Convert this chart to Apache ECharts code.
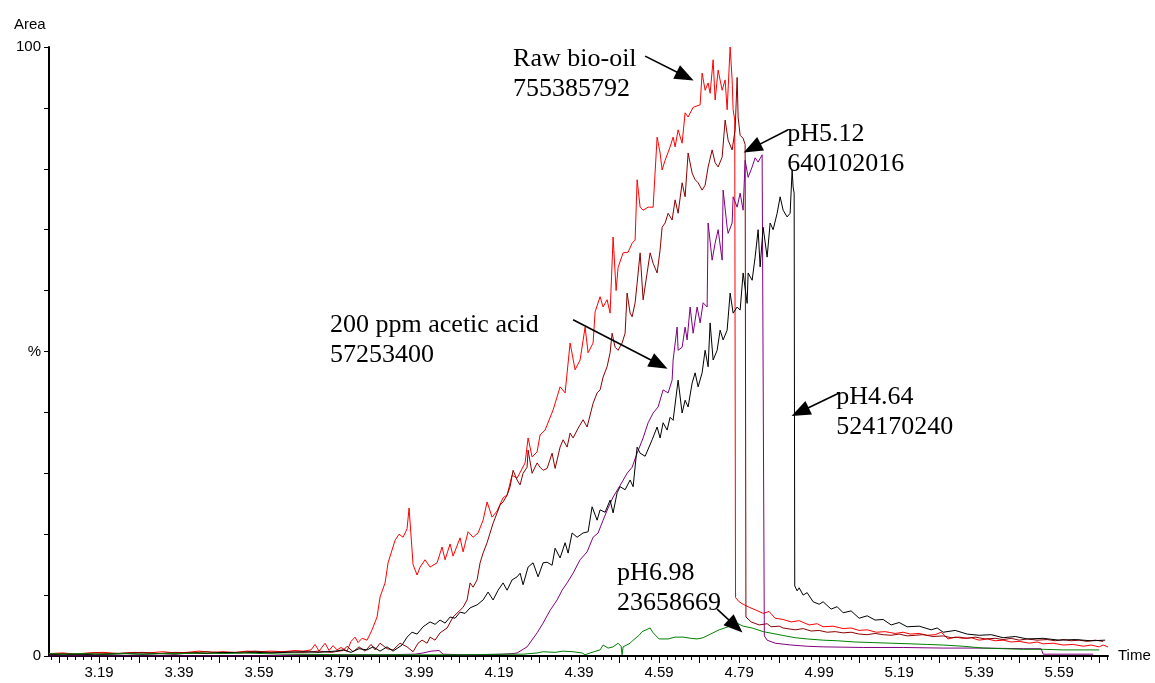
<!DOCTYPE html>
<html>
<head>
<meta charset="utf-8">
<script src="https://cdn.jsdelivr.net/npm/echarts@6/dist/echarts.min.js"></script>
<style>
  html, body { margin: 0; padding: 0; background: #fff; }
  #chart { width: 1155px; height: 683px; }
</style>
</head>
<body>
<div id="chart"></div>
<script>
// [time (min), % of base peak]
var rawBioOil = [[3.065,0.4],[3.10,0.5],[3.13,0.3],[3.16,0.5],[3.20,0.6],[3.24,0.4],[3.28,0.6],[3.31,0.5],[3.35,0.7],[3.38,0.5],[3.41,0.6],[3.44,0.8],[3.47,0.6],[3.50,0.7],[3.53,0.6],[3.56,0.8],[3.59,0.7],[3.62,0.8],[3.65,0.7],[3.68,0.9],[3.70,0.8],[3.72,1.0],[3.73,1.9],[3.74,0.8],[3.755,2.1],[3.765,0.9],[3.775,1.7],[3.785,1.0],[3.795,1.4],[3.81,0.8],[3.82,2.4],[3.83,3.1],[3.8375,2.2],[3.8475,2.9],[3.86,2.6],[3.8725,4.3],[3.885,6.4],[3.8925,9.7],[3.905,12.0],[3.9125,15.3],[3.93,19.0],[3.94,20.0],[3.95,19.5],[3.96,20.9],[3.965,24.3],[3.975,15.0],[3.985,13.3],[3.9925,14.6],[4.005,15.8],[4.0175,14.6],[4.035,15.3],[4.0475,17.9],[4.055,15.8],[4.0675,18.4],[4.075,16.4],[4.0925,19.4],[4.10,17.1],[4.1125,20.4],[4.125,19.5],[4.1375,20.2],[4.15,22.3],[4.16,25.3],[4.1725,22.8],[4.185,23.8],[4.20,26.0],[4.21,26.4],[4.2225,29.7],[4.235,29.2],[4.255,31.7],[4.2625,35.8],[4.2725,32.7],[4.285,33.5],[4.2925,36.3],[4.305,37.1],[4.325,40.4],[4.3425,44.2],[4.355,43.2],[4.3675,51.4],[4.38,47.0],[4.3925,48.6],[4.405,54.0],[4.4125,49.8],[4.425,51.4],[4.43,56.5],[4.4425,59.0],[4.45,57.3],[4.46,58.5],[4.4675,56.3],[4.475,68.8],[4.4825,60.0],[4.4875,63.8],[4.50,66.2],[4.5125,66.3],[4.5225,67.8],[4.53,68.3],[4.535,78.2],[4.5425,73.7],[4.55,73.2],[4.5625,73.7],[4.575,73.7],[4.585,85.2],[4.5925,82.6],[4.5975,79.8],[4.605,81.4],[4.6175,83.6],[4.625,85.2],[4.63,83.6],[4.6375,86.4],[4.6475,84.2],[4.655,89.2],[4.6625,88.5],[4.675,90.1],[4.6925,90.5],[4.6975,95.7],[4.705,92.9],[4.7125,94.1],[4.7175,92.4],[4.725,97.9],[4.73,91.3],[4.7375,96.2],[4.7475,92.9],[4.755,94.6],[4.76,89.7],[4.7675,100],[4.7725,94.6],[4.775,89.7],[4.779,88.0],[4.781,9.6],[4.79,8.9],[4.80,8.5],[4.815,8.0],[4.83,7.6],[4.85,7.0],[4.865,7.3],[4.88,6.2],[4.90,6.0],[4.92,5.6],[4.94,5.8],[4.965,5.1],[4.985,5.3],[5.00,4.8],[5.025,4.9],[5.05,4.5],[5.07,4.6],[5.09,4.2],[5.11,4.3],[5.133,3.9],[5.155,4.0],[5.18,3.7],[5.20,3.9],[5.218,3.6],[5.24,3.7],[5.26,3.4],[5.28,3.5],[5.295,3.9],[5.305,3.3],[5.312,2.8],[5.33,3.1],[5.35,2.9],[5.37,3.0],[5.39,2.6],[5.41,2.8],[5.43,2.5],[5.45,2.6],[5.47,2.3],[5.49,2.4],[5.515,2.1],[5.535,2.3],[5.55,2.0],[5.575,2.1],[5.60,1.8],[5.625,1.9],[5.65,1.6],[5.67,1.8],[5.69,1.5],[5.70,1.8],[5.712,1.5]];

var pH512 = [[3.065,0.3],[3.10,0.4],[3.14,0.3],[3.18,0.5],[3.22,0.4],[3.26,0.5],[3.30,0.6],[3.34,0.4],[3.38,0.6],[3.42,0.5],[3.46,0.7],[3.50,0.5],[3.54,0.6],[3.58,0.8],[3.62,0.6],[3.66,0.7],[3.70,0.6],[3.74,0.8],[3.77,0.6],[3.80,0.9],[3.81,1.6],[3.825,0.7],[3.84,1.5],[3.855,0.8],[3.87,1.9],[3.88,1.0],[3.8925,2.1],[3.91,1.2],[3.925,1.0],[3.9425,2.1],[3.96,1.5],[3.975,0.7],[3.9875,2.1],[3.9975,2.6],[4.01,2.1],[4.0175,3.1],[4.03,2.6],[4.0425,3.8],[4.06,4.6],[4.075,6.4],[4.0875,7.2],[4.10,8.0],[4.11,9.2],[4.1175,12.0],[4.125,11.3],[4.135,12.5],[4.1425,15.3],[4.15,16.9],[4.16,18.6],[4.1675,20.2],[4.175,21.8],[4.185,23.5],[4.1925,24.8],[4.20,25.3],[4.21,26.4],[4.2175,27.8],[4.225,30.5],[4.235,28.9],[4.2425,28.1],[4.25,30.0],[4.26,31.0],[4.2625,33.8],[4.2725,30.0],[4.285,31.7],[4.2925,31.0],[4.30,30.5],[4.31,30.8],[4.3225,33.3],[4.33,30.8],[4.3425,34.3],[4.35,35.5],[4.36,34.3],[4.3675,36.6],[4.375,35.8],[4.3875,37.4],[4.40,38.8],[4.41,37.6],[4.425,41.5],[4.435,43.2],[4.4425,43.7],[4.45,45.8],[4.46,47.5],[4.4675,49.8],[4.4725,53.0],[4.48,50.7],[4.4875,50.2],[4.4975,51.4],[4.505,53.0],[4.51,59.6],[4.5175,56.3],[4.5225,55.7],[4.53,58.0],[4.535,61.2],[4.5425,66.2],[4.55,58.5],[4.56,62.9],[4.5675,66.2],[4.575,64.5],[4.585,62.9],[4.5925,66.7],[4.5975,70.4],[4.605,71.1],[4.6125,72.7],[4.6225,71.6],[4.63,74.9],[4.6375,72.7],[4.6475,77.7],[4.655,75.4],[4.6625,82.6],[4.6725,79.3],[4.68,78.2],[4.6875,77.7],[4.6975,76.5],[4.705,77.3],[4.7125,80.3],[4.7225,83.1],[4.73,81.0],[4.7375,80.3],[4.7475,81.9],[4.755,88.0],[4.7625,84.7],[4.7725,83.1],[4.78,86.4],[4.785,95.0],[4.7875,88.5],[4.7925,85.5],[4.80,85.0],[4.805,84.0],[4.807,6.4],[4.82,5.6],[4.84,5.1],[4.86,5.3],[4.87,4.8],[4.89,4.9],[4.90,4.6],[4.93,4.3],[4.95,4.5],[4.97,4.1],[4.99,4.2],[5.01,3.9],[5.03,4.0],[5.05,3.8],[5.07,3.9],[5.09,3.6],[5.11,3.5],[5.13,3.7],[5.15,3.5],[5.17,3.4],[5.19,3.6],[5.21,3.3],[5.23,3.4],[5.25,3.5],[5.275,3.2],[5.30,3.3],[5.32,3.0],[5.34,3.1],[5.36,2.9],[5.38,3.1],[5.405,2.8],[5.43,2.9],[5.45,2.7],[5.47,2.9],[5.49,2.6],[5.51,2.8],[5.535,2.6],[5.56,2.7],[5.58,2.5],[5.60,2.7],[5.62,2.5],[5.64,2.6],[5.66,2.4],[5.68,2.6],[5.70,2.4]];

var aceticAcid = [[3.065,0.0],[3.30,0.0],[3.60,0.0],[3.65,0.1],[3.70,0.2],[3.80,0.2],[3.90,0.2],[3.98,0.3],[4.00,0.5],[4.02,0.8],[4.04,0.9],[4.05,0.3],[4.10,0.2],[4.15,0.2],[4.20,0.3],[4.225,0.4],[4.235,0.5],[4.26,1.5],[4.285,3.8],[4.30,5.4],[4.3175,7.5],[4.335,9.2],[4.3475,10.8],[4.36,12.0],[4.375,13.6],[4.3925,15.8],[4.41,17.1],[4.425,19.5],[4.4375,20.2],[4.45,22.3],[4.4625,24.3],[4.475,26.1],[4.4925,28.0],[4.51,30.0],[4.5225,31.0],[4.535,33.3],[4.55,35.8],[4.5625,38.3],[4.575,39.9],[4.5875,40.9],[4.60,43.7],[4.6125,43.2],[4.6225,45.3],[4.625,48.6],[4.635,54.0],[4.6375,50.2],[4.6475,50.7],[4.655,54.0],[4.66,51.9],[4.6675,57.3],[4.675,53.0],[4.685,57.3],[4.6925,54.7],[4.70,58.0],[4.71,57.3],[4.7125,71.1],[4.7225,65.0],[4.73,67.8],[4.7375,70.0],[4.7475,65.0],[4.75,76.5],[4.76,70.4],[4.7625,69.4],[4.7725,71.1],[4.775,75.4],[4.785,73.7],[4.7925,76.0],[4.80,73.2],[4.805,81.4],[4.8125,78.6],[4.8225,80.3],[4.83,81.8],[4.8375,81.1],[4.8475,82.3],[4.85,82.5],[4.853,3.3],[4.86,2.6],[4.88,2.1],[4.92,1.8],[4.96,1.6],[5.00,1.5],[5.10,1.4],[5.20,1.4],[5.30,1.3],[5.40,1.3],[5.50,1.2],[5.545,1.2],[5.55,0.3],[5.675,0.3]];

var pH464 = [[3.065,0.3],[3.10,0.2],[3.14,0.3],[3.18,0.2],[3.22,0.3],[3.26,0.4],[3.30,0.3],[3.34,0.4],[3.38,0.3],[3.42,0.5],[3.46,0.4],[3.50,0.6],[3.54,0.5],[3.58,0.6],[3.62,0.5],[3.66,0.6],[3.70,0.7],[3.74,0.6],[3.78,0.8],[3.80,1.0],[3.82,0.6],[3.84,1.2],[3.86,1.0],[3.875,1.5],[3.8925,0.8],[3.91,1.5],[3.925,0.8],[3.9475,1.8],[3.96,3.1],[3.9725,3.9],[3.985,3.6],[4.00,4.8],[4.0175,5.6],[4.03,5.2],[4.0425,5.9],[4.055,5.4],[4.0675,6.4],[4.08,6.2],[4.0925,7.2],[4.105,7.0],[4.1175,7.9],[4.135,8.4],[4.15,9.2],[4.1625,10.5],[4.175,9.2],[4.1875,10.8],[4.20,12.0],[4.21,10.8],[4.2225,12.5],[4.235,13.0],[4.2425,13.6],[4.25,11.7],[4.2625,14.6],[4.275,15.3],[4.2875,13.0],[4.30,15.3],[4.31,15.4],[4.3225,14.9],[4.33,17.7],[4.3425,16.1],[4.355,18.6],[4.3625,16.9],[4.3725,20.2],[4.385,19.5],[4.40,20.2],[4.4125,20.4],[4.4225,24.5],[4.435,22.3],[4.4425,24.0],[4.455,23.6],[4.4675,25.6],[4.475,23.5],[4.485,26.8],[4.4925,27.8],[4.505,27.3],[4.5175,28.9],[4.525,27.8],[4.535,34.3],[4.5425,33.3],[4.555,32.8],[4.5725,35.5],[4.585,37.6],[4.5925,35.8],[4.60,38.3],[4.61,37.1],[4.6175,39.2],[4.625,38.7],[4.6375,45.3],[4.6475,39.9],[4.655,42.0],[4.6625,40.9],[4.6725,44.8],[4.68,46.5],[4.6875,44.2],[4.6975,46.5],[4.705,50.2],[4.7125,47.5],[4.7175,54.7],[4.725,48.6],[4.735,50.2],[4.7425,53.5],[4.75,51.9],[4.76,53.5],[4.7675,59.6],[4.775,56.3],[4.785,57.3],[4.7925,56.8],[4.80,62.9],[4.81,57.9],[4.8125,62.9],[4.8225,61.7],[4.83,65.5],[4.8375,70.0],[4.8425,63.9],[4.85,70.4],[4.86,65.5],[4.8675,71.1],[4.875,70.0],[4.885,72.7],[4.8925,75.4],[4.90,73.2],[4.91,72.1],[4.9175,72.7],[4.9225,79.8],[4.925,77.0],[4.9275,76.0],[4.929,11.5],[4.935,10.7],[4.94,11.2],[4.95,10.0],[4.96,10.4],[4.975,8.9],[4.99,8.5],[5.00,8.9],[5.02,7.7],[5.035,8.1],[5.05,7.1],[5.07,7.4],[5.09,6.2],[5.11,6.6],[5.13,5.9],[5.15,6.0],[5.17,5.1],[5.19,5.5],[5.21,4.8],[5.24,4.9],[5.27,4.3],[5.285,4.6],[5.30,3.9],[5.33,4.2],[5.36,3.6],[5.39,3.4],[5.42,3.5],[5.45,3.0],[5.48,3.2],[5.51,2.8],[5.55,2.9],[5.59,2.6],[5.63,2.7],[5.67,2.5],[5.705,2.6]];

var pH698 = [[3.065,0.4],[3.10,0.3],[3.15,0.4],[3.20,0.3],[3.25,0.4],[3.30,0.3],[3.35,0.4],[3.40,0.4],[3.45,0.5],[3.50,0.4],[3.55,0.5],[3.60,0.4],[3.65,0.3],[3.70,0.3],[3.80,0.2],[3.90,0.2],[4.00,0.2],[4.10,0.2],[4.20,0.3],[4.25,0.3],[4.285,0.5],[4.30,0.7],[4.33,0.6],[4.35,0.8],[4.375,0.7],[4.3975,0.5],[4.405,0.2],[4.4175,0.5],[4.4425,1.0],[4.45,1.8],[4.4625,1.3],[4.475,1.5],[4.4875,2.1],[4.495,1.6],[4.4975,0.2],[4.50,1.5],[4.5175,2.1],[4.525,2.6],[4.54,3.4],[4.5475,4.0],[4.5675,4.6],[4.575,3.8],[4.59,2.8],[4.6125,2.8],[4.63,3.1],[4.65,3.1],[4.67,2.9],[4.685,2.8],[4.70,3.0],[4.7125,3.4],[4.74,4.3],[4.7675,4.9],[4.7875,5.3],[4.80,4.9],[4.8225,4.6],[4.85,4.0],[4.8975,3.4],[4.93,3.0],[4.96,2.8],[5.00,2.6],[5.035,2.5],[5.08,2.3],[5.125,2.2],[5.17,2.1],[5.2175,2.0],[5.26,1.9],[5.30,1.8],[5.35,1.6],[5.40,1.3],[5.45,1.2],[5.50,1.1],[5.55,1.1],[5.60,1.0],[5.65,1.0],[5.69,1.0]];

var labelTicks = [3.19, 3.39, 3.59, 3.79, 3.99, 4.19, 4.39, 4.59, 4.79, 4.99, 5.19, 5.39, 5.59];
var majorTicks = [3.09, 3.19, 3.29, 3.39, 3.49, 3.59, 3.69, 3.79, 3.89, 3.99, 4.09, 4.19, 4.29, 4.39, 4.49, 4.59, 4.69, 4.79, 4.89, 4.99, 5.09, 5.19, 5.29, 5.39, 5.49, 5.59, 5.69];
var minorTicks = [];
for (var k = 0; k <= 132; k++) minorTicks.push(+(3.07 + k * 0.02).toFixed(2));

// annotation text + arrow (tail -> head) in data coords
var notes = [
  { text: 'Raw bio-oil\n755385792', at: [4.225, 95.6], from: [4.555, 98.5], to: [4.655, 95.2] },
  { text: 'pH5.12\n640102016', at: [4.91, 83.3], from: [4.9125, 86.4], to: [4.8225, 83.4] },
  { text: '200 ppm acetic acid\n57253400', at: [3.7675, 51.9], from: [4.375, 55.2], to: [4.59, 47.9] },
  { text: 'pH4.64\n524170240', at: [5.0325, 40.1], from: [5.04, 43.2], to: [4.9425, 40.1] },
  { text: 'pH6.98\n23658669', at: [4.485, 11.2], from: [4.735, 7.7], to: [4.781, 4.9] }
];

var chartDom = document.getElementById('chart');
var myChart = echarts.init(chartDom, null, { renderer: 'canvas', devicePixelRatio: 1 });

var sans = 'Liberation Sans, Arial, sans-serif';
var serif = 'Liberation Serif, Times New Roman, serif';
var XMIN = 3.065, XMAX = 5.712;

function trace(name, data, color) {
  return {
    name: name, type: 'line', data: data, symbol: 'none', showSymbol: false,
    lineStyle: { color: color, width: 1 }, itemStyle: { color: color },
    clip: true, z: 2
  };
}

var series = [
  trace('Raw bio-oil', rawBioOil, '#ff0000'),
  trace('pH5.12', pH512, '#8b0000'),
  trace('200 ppm acetic acid', aceticAcid, '#800080'),
  trace('pH4.64', pH464, '#000000'),
  trace('pH6.98', pH698, '#008000')
];

series.push({
  name: 'notes', type: 'line', data: [], clip: false, z: 5,
  markPoint: {
    symbol: 'circle', symbolSize: 0, silent: true,
    itemStyle: { color: 'rgba(0,0,0,0)' },
    label: {
      show: true, position: 'right', distance: 0,
      fontFamily: serif, fontSize: 26, lineHeight: 30, color: '#000', align: 'left',
      formatter: function (p) { return p.name; }
    },
    data: notes.map(function (n) { return { name: n.text, coord: n.at }; })
  },
  markLine: {
    silent: true, animation: false,
    symbol: ['none', 'path://M5,0L10,16L0,16Z'],
    symbolSize: [15, 19],
    label: { show: false },
    lineStyle: { color: '#000', width: 1.6, type: 'solid' },
    data: notes.map(function (n) { return [{ coord: n.from }, { coord: n.to }]; })
  }
});

var option = {
  animation: false,
  backgroundColor: '#fff',
  title: {
    text: 'Area', left: 9, top: 12,
    textStyle: { fontFamily: sans, fontSize: 15, fontWeight: 'normal', color: '#000' }
  },
  grid: { left: 49, right: 47, top: 47, bottom: 27, containLabel: false },
  xAxis: [
    {
      type: 'value', min: XMIN, max: XMAX, position: 'bottom',
      name: 'Time', nameLocation: 'end', nameGap: 10,
      nameTextStyle: { fontFamily: sans, fontSize: 15, color: '#000' },
      axisLine: { show: true, onZero: false, lineStyle: { color: '#000', width: 2 } },
      axisTick: { show: true, inside: false, length: 7, customValues: majorTicks, lineStyle: { color: '#000', width: 1 } },
      axisLabel: { show: true, margin: 9, customValues: labelTicks, fontFamily: sans, fontSize: 15, color: '#000',
        formatter: function (v) { return v.toFixed(2); } },
      splitLine: { show: false }
    },
    {
      type: 'value', min: XMIN, max: XMAX, position: 'bottom', gridIndex: 0,
      axisLine: { show: false, onZero: false },
      axisTick: { show: true, inside: false, length: 4, customValues: minorTicks, lineStyle: { color: '#000', width: 1 } },
      axisLabel: { show: false },
      splitLine: { show: false }
    }
  ],
  yAxis: {
    type: 'value', min: 0, max: 100, interval: 10,
    axisLine: { show: true, onZero: false, lineStyle: { color: '#000', width: 2 } },
    axisTick: { show: true, inside: false, length: 5, lineStyle: { color: '#000', width: 1 } },
    axisLabel: {
      show: true, margin: 8, fontFamily: sans, fontSize: 15, color: '#000',
      formatter: function (v) { return v === 0 ? '0' : v === 50 ? '%' : v === 100 ? '100' : ''; }
    },
    splitLine: { show: false }
  },
  series: series
};

option && myChart.setOption(option);
</script>
</body>
</html>
